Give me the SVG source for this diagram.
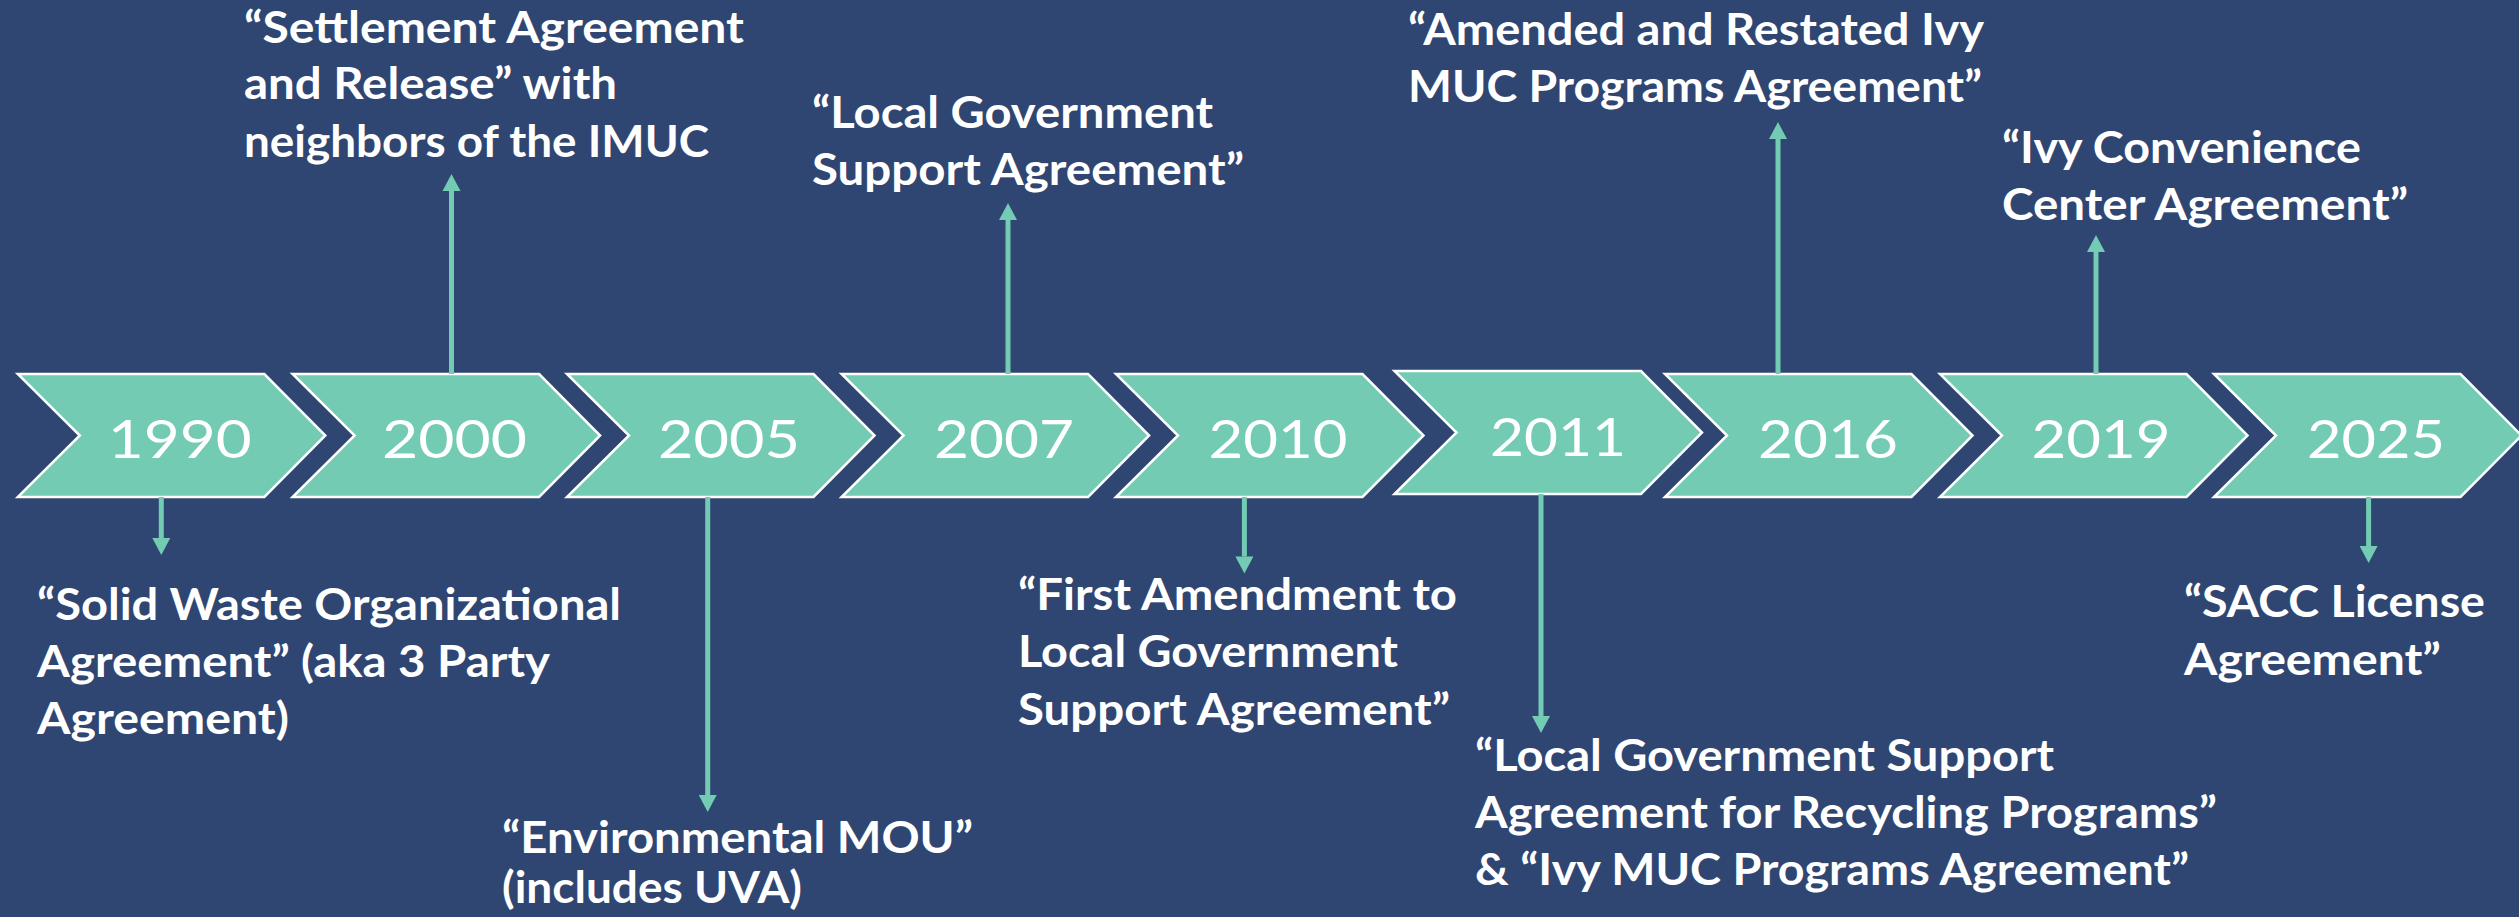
<svg xmlns="http://www.w3.org/2000/svg" width="2519" height="917" viewBox="0 0 2519 917">
  <style>
    .bg { fill: #2F4672; }
    .chev { fill: #72CBB2; stroke: #FFFFFF; stroke-width: 2.5; stroke-linejoin: miter; }
    .year { font-family: Lato, "Open Sans", "Liberation Sans", sans-serif; font-size: 52px; font-weight: 400; fill: #FFFFFF; text-anchor: middle; }
    .lbl { font-family: Lato, "Open Sans", "Liberation Sans", sans-serif; font-size: 44px; font-weight: 700; fill: #FFFFFF; }
    .conn { stroke: #72CBB2; stroke-width: 5; fill: none; marker-end: url(#head); }
  </style>
  <defs>
    <path id="chevron" d="M0,0 H246.5 L307.5,61.5 L246.5,123 H0 L62,61.5 Z"/>
    <marker id="head" markerUnits="userSpaceOnUse" markerWidth="18" markerHeight="18" refX="0" refY="9" orient="auto" overflow="visible">
      <path d="M0,0 L17,9 L0,18 Z" fill="#72CBB2"/>
    </marker>
  </defs>

  <rect class="bg" x="0" y="0" width="2519" height="917"/>

  <!-- timeline chevrons -->
  <g id="y1990"><use href="#chevron" class="chev" x="17.8" y="374"/><text class="year" x="179.8" y="458" textLength="144" lengthAdjust="spacingAndGlyphs">1990</text></g>
  <g id="y2000"><use href="#chevron" class="chev" x="292.6" y="374"/><text class="year" x="454.6" y="458" textLength="145" lengthAdjust="spacingAndGlyphs">2000</text></g>
  <g id="y2005"><use href="#chevron" class="chev" x="567" y="374"/><text class="year" x="729" y="458" textLength="142" lengthAdjust="spacingAndGlyphs">2005</text></g>
  <g id="y2007"><use href="#chevron" class="chev" x="841.6" y="374"/><text class="year" x="1004" y="458" textLength="140" lengthAdjust="spacingAndGlyphs">2007</text></g>
  <g id="y2010"><use href="#chevron" class="chev" x="1116" y="374"/><text class="year" x="1278" y="458" textLength="139" lengthAdjust="spacingAndGlyphs">2010</text></g>
  <g id="y2011"><use href="#chevron" class="chev" x="1394.5" y="371"/><text class="year" x="1558" y="456" textLength="136" lengthAdjust="spacingAndGlyphs">2011</text></g>
  <g id="y2016"><use href="#chevron" class="chev" x="1665" y="374"/><text class="year" x="1828" y="458" textLength="140" lengthAdjust="spacingAndGlyphs">2016</text></g>
  <g id="y2019"><use href="#chevron" class="chev" x="1940" y="374"/><text class="year" x="2101" y="458" textLength="139" lengthAdjust="spacingAndGlyphs">2019</text></g>
  <g id="y2025"><use href="#chevron" class="chev" x="2214" y="374"/><text class="year" x="2376" y="458" textLength="138" lengthAdjust="spacingAndGlyphs">2025</text></g>

  <!-- agreement labels -->
  <g id="label-1990">
    <text class="lbl" x="37" y="620" textLength="584" lengthAdjust="spacingAndGlyphs">“Solid Waste Organizational</text>
    <text class="lbl" x="37" y="677" textLength="513" lengthAdjust="spacingAndGlyphs">Agreement” (aka 3 Party</text>
    <text class="lbl" x="37" y="734" textLength="252" lengthAdjust="spacingAndGlyphs">Agreement)</text>
  </g>
  <g id="label-2000">
    <text class="lbl" x="244" y="43" textLength="500" lengthAdjust="spacingAndGlyphs">“Settlement Agreement</text>
    <text class="lbl" x="244" y="99" textLength="373" lengthAdjust="spacingAndGlyphs">and Release” with</text>
    <text class="lbl" x="244" y="157" textLength="465" lengthAdjust="spacingAndGlyphs">neighbors of the IMUC</text>
  </g>
  <g id="label-2005">
    <text class="lbl" x="502" y="853" textLength="471" lengthAdjust="spacingAndGlyphs">“Environmental MOU”</text>
    <text class="lbl" x="502" y="903" textLength="300" lengthAdjust="spacingAndGlyphs">(includes UVA)</text>
  </g>
  <g id="label-2007">
    <text class="lbl" x="812" y="128" textLength="401" lengthAdjust="spacingAndGlyphs">“Local Government</text>
    <text class="lbl" x="812" y="185" textLength="432" lengthAdjust="spacingAndGlyphs">Support Agreement”</text>
  </g>
  <g id="label-2010">
    <text class="lbl" x="1018" y="610" textLength="439" lengthAdjust="spacingAndGlyphs">“First Amendment to</text>
    <text class="lbl" x="1018" y="667" textLength="380" lengthAdjust="spacingAndGlyphs">Local Government</text>
    <text class="lbl" x="1018" y="725" textLength="432" lengthAdjust="spacingAndGlyphs">Support Agreement”</text>
  </g>
  <g id="label-2011">
    <text class="lbl" x="1475" y="771" textLength="579" lengthAdjust="spacingAndGlyphs">“Local Government Support</text>
    <text class="lbl" x="1475" y="828" textLength="742" lengthAdjust="spacingAndGlyphs">Agreement for Recycling Programs”</text>
    <text class="lbl" x="1475" y="885" textLength="714" lengthAdjust="spacingAndGlyphs">&amp; “Ivy MUC Programs Agreement”</text>
  </g>
  <g id="label-2016">
    <text class="lbl" x="1408" y="45" textLength="576" lengthAdjust="spacingAndGlyphs">“Amended and Restated Ivy</text>
    <text class="lbl" x="1408" y="102" textLength="574" lengthAdjust="spacingAndGlyphs">MUC Programs Agreement”</text>
  </g>
  <g id="label-2019">
    <text class="lbl" x="2002" y="163" textLength="359" lengthAdjust="spacingAndGlyphs">“Ivy Convenience</text>
    <text class="lbl" x="2002" y="220" textLength="406" lengthAdjust="spacingAndGlyphs">Center Agreement”</text>
  </g>
  <g id="label-2025">
    <text class="lbl" x="2184" y="617" textLength="301" lengthAdjust="spacingAndGlyphs">“SACC License</text>
    <text class="lbl" x="2184" y="675" textLength="257" lengthAdjust="spacingAndGlyphs">Agreement”</text>
  </g>

  <!-- connectors from each year to its agreement label -->
  <g id="connectors">
    <line class="conn" x1="161.3" y1="497" x2="161.3" y2="538"/>
    <line class="conn" x1="451.5" y1="374" x2="451.5" y2="191"/>
    <line class="conn" x1="707.7" y1="497" x2="707.7" y2="795"/>
    <line class="conn" x1="1008" y1="374" x2="1008" y2="220"/>
    <line class="conn" x1="1244.4" y1="497" x2="1244.4" y2="556.5"/>
    <line class="conn" x1="1541" y1="494" x2="1541" y2="716"/>
    <line class="conn" x1="1778" y1="374" x2="1778" y2="139"/>
    <line class="conn" x1="2096" y1="374" x2="2096" y2="252"/>
    <line class="conn" x1="2368.6" y1="497" x2="2368.6" y2="546"/>
  </g>
</svg>
